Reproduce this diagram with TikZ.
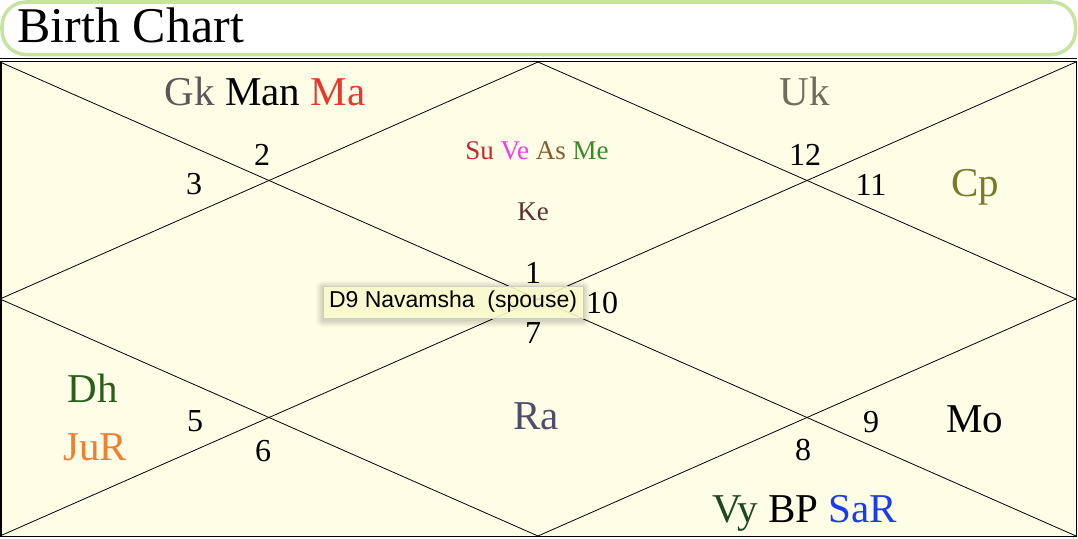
\documentclass[tikz,border=0pt]{standalone}
\usepackage{fontspec}
\setmainfont{Liberation Serif}
\newfontfamily\tipfont{Liberation Sans}
\definecolor{chartbg}{HTML}{FEFDE6}
\definecolor{rim}{HTML}{C4E4A0}
\definecolor{tipbg}{HTML}{FFFFCF}
\definecolor{gk}{HTML}{5E5656}
\definecolor{ma}{HTML}{E8382E}
\definecolor{uk}{HTML}{6E6E5E}
\definecolor{cp}{HTML}{7A7A2A}
\definecolor{su}{HTML}{C0282A}
\definecolor{ve}{HTML}{F03CF0}
\definecolor{as}{HTML}{8A5A2E}
\definecolor{me}{HTML}{3A8A2A}
\definecolor{ke}{HTML}{5A3232}
\definecolor{dh}{HTML}{2A5E1E}
\definecolor{ju}{HTML}{F08030}
\definecolor{ra}{HTML}{4E4E6C}
\definecolor{vy}{HTML}{1E481E}
\definecolor{sa}{HTML}{1A3CF0}

\begin{document}
\begin{tikzpicture}[x=1pt,y=-1pt,
  planet/.style={anchor=base,font=\fontsize{41}{41}\selectfont},
  small/.style={anchor=base,font=\fontsize{27}{27}\selectfont},
  house/.style={anchor=base,font=\fontsize{32}{32}\selectfont}]
  \useasboundingbox (0,0) rectangle (1078,538);
  % title bar
  \draw[rim,line width=3.5pt,fill=white,rounded corners=24pt] (2,2) rectangle (1075.5,54.5);
  \node[anchor=base west,font=\fontsize{50}{50}\selectfont] (title) at (14,42) {Birth Chart};
  % chart frame
  \coordinate (tl) at (0,62);
  \coordinate (tr) at (1076,62);
  \coordinate (br) at (1076,536);
  \coordinate (bl) at (0,536);
  \coordinate (top) at (538,62);
  \coordinate (right) at (1076,299);
  \coordinate (bottom) at (538,536);
  \coordinate (left) at (0,299);
  \draw[line width=0.8pt] (0,58.5) -- (1077,58.5);
  \draw[fill=chartbg,line width=1.5pt] (0.75,61.5) rectangle (1076.5,536.5);
  \draw[line width=0.8pt] (tl) -- (br) (tr) -- (bl);
  \draw[line width=0.8pt] (top) -- (right) -- (bottom) -- (left) -- cycle;
  % house numbers
  \foreach \h/\x/\y in {1/533/283, 2/262/165, 3/194/194, 5/195/431, 6/263/461,
      7/533/343, 8/803/460, 9/871/432, 10/602/313, 11/871/195, 12/805/165}
    \node[house] (h\h) at (\x,\y) {\h};
  % planets
  \foreach \n/\x/\y/\txt in {
     gkmanma/265/105/{\textcolor{gk}{Gk} Man \textcolor{ma}{Ma}},
     uk/805/105/{\textcolor{uk}{Uk}},
     cp/975/196/{\textcolor{cp}{Cp}},
     dh/93/402/{\textcolor{dh}{Dh}},
     jur/95/460/{\textcolor{ju}{JuR}},
     ra/536/429/{\textcolor{ra}{Ra}},
     mo/975/432/{Mo},
     vybpsar/805/522/{\textcolor{vy}{Vy} BP \textcolor{sa}{SaR}}}
    \node[planet] (\n) at (\x,\y) {\txt};
  \node[small] (suveasme) at (537,159)
    {\textcolor{su}{Su} \textcolor{ve}{Ve} \textcolor{as}{As} \textcolor{me}{Me}};
  \node[small] (ke) at (533,220) {\textcolor{ke}{Ke}};
  % tooltip
  \foreach \s in {1,...,7}
    \fill[black,opacity=0.025,rounded corners=\s pt] (323-\s,286-\s+2) rectangle (583+\s,318+\s+2);
  \node[draw=black!20,fill=tipbg,fill opacity=0.88,text opacity=1,line width=0.6pt,
    minimum width=260pt,minimum height=32pt,inner sep=0pt,
    font=\tipfont\fontsize{23}{23}\selectfont] (tip) at (453,302) {D9 Navamsha~~(spouse)};
\end{tikzpicture}
\end{document}
